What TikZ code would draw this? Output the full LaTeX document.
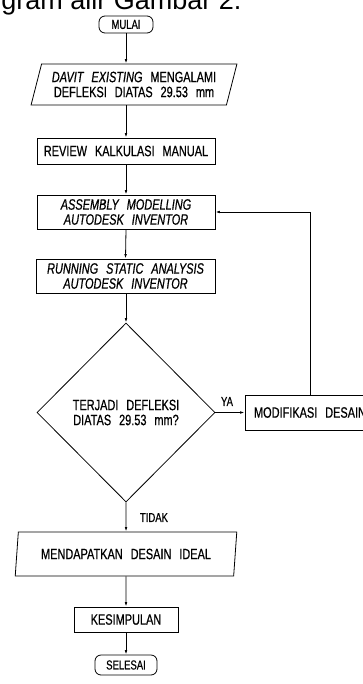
\documentclass[tikz,border=0pt]{standalone}
\usepackage{fontspec}
\setmainfont{Liberation Sans}[FakeStretch=0.73, WordSpace=2.6, FakeBold=0.6]
\newfontfamily\titlefont{Liberation Sans}
\usetikzlibrary{shapes.geometric,arrows.meta}
\begin{document}
\begin{tikzpicture}[x=1pt,y=-1pt,
  line width=0.8pt,
  every node/.style={inner sep=0pt, align=center},
  txt/.style={font=\fontsize{15}{15}\selectfont},
  procbox/.style={draw, txt, minimum height=#1},
  terminal/.style={draw, rounded corners=6pt, font=\fontsize{13}{14}\selectfont},
  iobox/.style={draw, trapezium, trapezium stretches=true, txt},
  decision/.style={draw, diamond, txt, minimum width=178pt, minimum height=179pt},
  lbl/.style={font=\fontsize{13}{14}\selectfont},
  arr/.style={-{Latex[length=4.5pt,width=2.6pt]}}
]
\useasboundingbox (0,0) rectangle (363,684);
\fill[white] (0,0) rectangle (363,684);

\node[anchor=base west, font=\titlefont\fontsize{27}{30}\selectfont] (title) at (1,10) {gram alir Gambar 2.};

\node[terminal, minimum width=54pt, minimum height=17pt] (mulai) at (126,24.5) {MULAI};
\node[iobox, trapezium left angle=70, trapezium right angle=110, minimum width=206pt, minimum height=41pt] (p1) at (134,84.5)
  {\itshape DAVIT EXISTING\upshape\ MENGALAMI\\DEFLEKSI DIATAS 29.53 mm};
\node[procbox=26pt, minimum width=178pt] (review) at (126,151) {REVIEW KALKULASI MANUAL};
\node[procbox=34pt, minimum width=178pt] (assembly) at (126,212) {\itshape ASSEMBLY MODELLING\\\itshape AUTODESK INVENTOR};
\node[procbox=34pt, minimum width=179pt] (running) at (125.5,276) {\itshape RUNNING STATIC ANALYSIS\\\itshape AUTODESK INVENTOR};
\node[decision] (dia) at (126,412.5) {TERJADI DEFLEKSI\\DIATAS 29.53 mm?};
\node[procbox=35pt, minimum width=130pt] (mod) at (310,412.5) {MODIFIKASI DESAIN};
\node[iobox, trapezium left angle=77, trapezium right angle=103, minimum width=222pt, minimum height=44pt] (p2) at (126,554)
  {MENDAPATKAN DESAIN IDEAL};
\node[procbox=25pt, minimum width=104pt] (kes) at (126,619.5) {KESIMPULAN};
\node[terminal, minimum width=62pt, minimum height=20pt] (sel) at (126,665) {SELESAI};

\node[lbl] (ya) at (227,401.5) {YA};
\node[lbl] (tidak) at (154,517.5) {TIDAK};

\draw[arr] (mulai.south) -- (mulai.south |- p1.north);
\draw[arr] (p1.south -| review.north) -- (review.north);
\draw[arr] (review.south) -- (assembly.north);
\draw[arr] (assembly.south) -- (running.south |- running.north);
\draw[arr] (running.south -| dia.north) -- (dia.north);
\draw[arr] (dia.east) -- (mod.west);
\draw[arr] (mod.north) |- (assembly.east);
\draw[arr] (dia.south) -- (p2.north);
\draw[arr] (p2.south) -- (kes.north);
\draw[arr] (kes.south) -- (sel.north);
\end{tikzpicture}
\end{document}
